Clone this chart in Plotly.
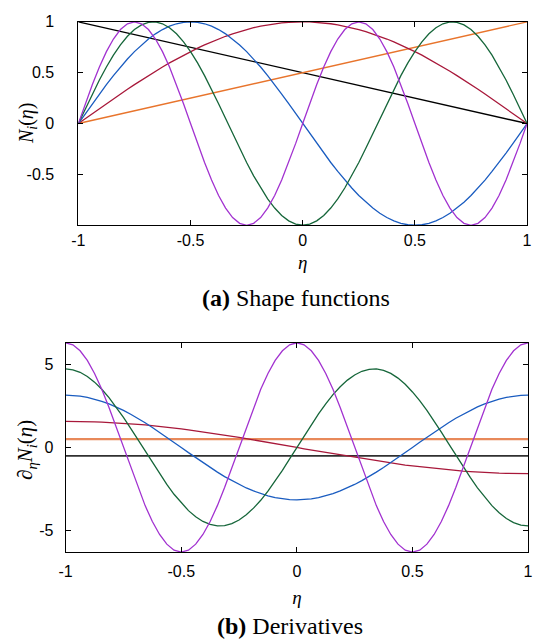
import plotly.graph_objects as go

# Nodal coordinate eta, sampled in steps of 1/32 on [-1, 1]
eta = [-1 + k / 32 for k in range(65)]
eta_ends = [-1.0, 1.0]

# Shape functions N_i(eta)
n_black = [1.0, 0.0]
n_orange = [0.0, 1.0]
n_red = [0, .049, .098, .147, .195, .243, .290, .337, .383, .428, .471, .514, .556, .596, .634, .672,
         .707, .741, .773, .803, .831, .858, .882, .904, .924, .942, .957, .970, .981, .989, .995, .999,
         1,
         .999, .995, .989, .981, .970, .957, .942, .924, .904, .882, .858, .831, .803, .773, .741,
         .707, .672, .634, .596, .556, .514, .471, .428, .383, .337, .290, .243, .195, .147, .098, .049, 0]
n_blue = [0, .098, .195, .290, .383, .471, .556, .634, .707, .773, .831, .882, .924, .957, .981, .995,
          1, .995, .981, .957, .924, .882, .831, .773, .707, .634, .556, .471, .383, .290, .195, .098,
          0, -.098, -.195, -.290, -.383, -.471, -.556, -.634, -.707, -.773, -.831, -.882, -.924, -.957, -.981, -.995,
          -1, -.995, -.981, -.957, -.924, -.882, -.831, -.773, -.707, -.634, -.556, -.471, -.383, -.290, -.195, -.098, 0]
n_green = [0, .147, .290, .428, .556, .672, .773, .858, .924, .970, .995, .999, .981, .942, .882, .803,
           .707, .596, .471, .337, .195, .049, -.098, -.243, -.383, -.514, -.634, -.741, -.831, -.904, -.957, -.989,
           -1,
           -.989, -.957, -.904, -.831, -.741, -.634, -.514, -.383, -.243, -.098, .049, .195, .337, .471, .596,
           .707, .803, .882, .942, .981, .999, .995, .970, .924, .858, .773, .672, .556, .428, .290, .147, 0]
n_purple = [0, .195, .383, .556, .707, .831, .924, .981, 1, .981, .924, .831, .707, .556, .383, .195,
            0, -.195, -.383, -.556, -.707, -.831, -.924, -.981, -1, -.981, -.924, -.831, -.707, -.556, -.383, -.195,
            0, .195, .383, .556, .707, .831, .924, .981, 1, .981, .924, .831, .707, .556, .383, .195,
            0, -.195, -.383, -.556, -.707, -.831, -.924, -.981, -1, -.981, -.924, -.831, -.707, -.556, -.383, -.195, 0]

# Derivatives d/d(eta) N_i(eta)
d_black = [-0.5, -0.5]
d_orange = [0.5, 0.5]
d_red = [1.57, 1.57, 1.56, 1.55, 1.54, 1.52, 1.50, 1.48, 1.45, 1.42, 1.39, 1.35, 1.31, 1.26, 1.21, 1.16,
         1.11, 1.06, 1.00, 0.94, 0.87, 0.81, 0.74, 0.67, 0.60, 0.53, 0.46, 0.38, 0.31, 0.23, 0.15, 0.08,
         0,
         -0.08, -0.15, -0.23, -0.31, -0.38, -0.46, -0.53, -0.60, -0.67, -0.74, -0.81, -0.87, -0.94, -1.00, -1.06,
         -1.11, -1.16, -1.21, -1.26, -1.31, -1.35, -1.39, -1.42, -1.45, -1.48, -1.50, -1.52, -1.54, -1.55, -1.56, -1.57, -1.57]
d_blue = [3.14, 3.13, 3.08, 3.01, 2.90, 2.77, 2.61, 2.43, 2.22, 1.99, 1.75, 1.48, 1.20, 0.91, 0.61, 0.31,
          0, -0.31, -0.61, -0.91, -1.20, -1.48, -1.75, -1.99, -2.22, -2.43, -2.61, -2.77, -2.90, -3.01, -3.08, -3.13,
          -3.14, -3.13, -3.08, -3.01, -2.90, -2.77, -2.61, -2.43, -2.22, -1.99, -1.75, -1.48, -1.20, -0.91, -0.61, -0.31,
          0, 0.31, 0.61, 0.91, 1.20, 1.48, 1.75, 1.99, 2.22, 2.43, 2.61, 2.77, 2.90, 3.01, 3.08, 3.13, 3.14]
d_green = [4.71, 4.66, 4.51, 4.26, 3.92, 3.49, 2.99, 2.42, 1.80, 1.15, 0.46, -0.23, -0.92, -1.59, -2.22, -2.81,
           -3.33, -3.79, -4.16, -4.44, -4.62, -4.71, -4.69, -4.57, -4.35, -4.04, -3.64, -3.17, -2.62, -2.02, -1.37, -0.69,
           0,
           0.69, 1.37, 2.02, 2.62, 3.17, 3.64, 4.04, 4.35, 4.57, 4.69, 4.71, 4.62, 4.44, 4.16, 3.79,
           3.33, 2.81, 2.22, 1.59, 0.92, 0.23, -0.46, -1.15, -1.80, -2.42, -2.99, -3.49, -3.92, -4.26, -4.51, -4.66, -4.71]
d_purple = [6.28, 6.16, 5.80, 5.22, 4.44, 3.49, 2.40, 1.23, 0, -1.23, -2.40, -3.49, -4.44, -5.22, -5.80, -6.16,
            -6.28, -6.16, -5.80, -5.22, -4.44, -3.49, -2.40, -1.23, 0, 1.23, 2.40, 3.49, 4.44, 5.22, 5.80, 6.16,
            6.28, 6.16, 5.80, 5.22, 4.44, 3.49, 2.40, 1.23, 0, -1.23, -2.40, -3.49, -4.44, -5.22, -5.80, -6.16,
            -6.28, -6.16, -5.80, -5.22, -4.44, -3.49, -2.40, -1.23, 0, 1.23, 2.40, 3.49, 4.44, 5.22, 5.80, 6.16, 6.28]

x_ticks = [-1, -0.5, 0, 0.5, 1]
x_ticktext = ["-1", "-0.5", "0", "0.5", "1"]
ya_ticks = [-0.5, 0, 0.5, 1]
ya_ticktext = ["-0.5", "0", "0.5", "1"]
yb_ticks = [-5, 0, 5]
yb_ticktext = ["-5", "0", "5"]

BLACK = "#000000"
ORANGE = "#E8742C"
ORANGE_B = "#E8895A"
RED = "#A8183A"
BLUE = "#1A5CC0"
GREEN = "#16663A"
PURPLE = "#A232D0"

fig = go.Figure()

def add(x, y, color, width, xa, ya):
    fig.add_trace(go.Scatter(
        x=x, y=y, mode="lines", xaxis=xa, yaxis=ya, showlegend=False,
        line=dict(color=color, width=width), hoverinfo="skip"))

# (a) shape functions
add(eta_ends, n_black, BLACK, 1.4, "x", "y")
add(eta_ends, n_orange, ORANGE, 1.4, "x", "y")
add(eta, n_red, RED, 1.3, "x", "y")
add(eta, n_blue, BLUE, 1.3, "x", "y")
add(eta, n_green, GREEN, 1.3, "x", "y")
add(eta, n_purple, PURPLE, 1.3, "x", "y")

# (b) derivatives
add(eta_ends, d_black, "#303030", 1.8, "x2", "y2")
add(eta_ends, d_orange, ORANGE_B, 2.2, "x2", "y2")
add(eta, d_red, RED, 1.3, "x2", "y2")
add(eta, d_blue, BLUE, 1.3, "x2", "y2")
add(eta, d_green, GREEN, 1.3, "x2", "y2")
add(eta, d_purple, PURPLE, 1.3, "x2", "y2")

W, H = 535, 642
tick_font = dict(family="Liberation Sans, Arial, sans-serif", size=16, color="black")
serif = "Liberation Serif, Times New Roman, serif"

axis_common = dict(
    showline=True, linecolor="black", linewidth=1, mirror="allticks",
    ticks="inside", ticklen=5, tickcolor="black", tickwidth=1,
    showgrid=False, zeroline=False, tickfont=tick_font, tickmode="array",
    ticklabeloverflow="allow")

fig.update_layout(
    width=W, height=H,
    margin=dict(l=0, r=0, t=0, b=0),
    paper_bgcolor="white", plot_bgcolor="white",
    xaxis=dict(axis_common, domain=[73 / W, 532 / W], range=[-1, 1], anchor="y",
               tickvals=x_ticks, ticktext=x_ticktext, ticklabelstandoff=1,
               title=dict(text="<i>η</i>", font=dict(family=serif, size=19, color="black"), standoff=7)),
    yaxis=dict(axis_common, domain=[1 - 220 / H, 1 - 14 / H], range=[-1, 1], anchor="x",
               tickvals=ya_ticks, ticktext=ya_ticktext, ticklabelstandoff=20),
    xaxis2=dict(axis_common, domain=[60 / W, 533 / W], range=[-1, 1], anchor="y2",
                tickvals=x_ticks, ticktext=x_ticktext, ticklabelstandoff=5,
                title=dict(text="<i>η</i>", font=dict(family=serif, size=19, color="black"), standoff=11)),
    yaxis2=dict(axis_common, domain=[1 - 551 / H, 1 - 339 / H], range=[-6.28, 6.28], anchor="x2",
                tickvals=yb_ticks, ticktext=yb_ticktext, ticklabelstandoff=8),
    annotations=[
        # y-axis titles
        dict(text="<i>N<sub>i</sub></i>(<i>η</i>)", x=21 / W, y=1 - 117 / H, xref="paper", yref="paper",
             textangle=-90, showarrow=False, font=dict(family=serif, size=20, color="black"),
             xanchor="center", yanchor="middle"),
        dict(text="∂<sub><i>η</i></sub><i>N<sub>i</sub></i>(<i>η</i>)", x=20 / W, y=1 - 448 / H,
             xref="paper", yref="paper", textangle=-90, showarrow=False,
             font=dict(family=serif, size=21, color="black"), xanchor="center", yanchor="middle"),
        # panel captions
        dict(text="<b>(a)</b> Shape functions", x=295.5 / W, y=1 - 294 / H, xref="paper", yref="paper",
             showarrow=False, font=dict(family=serif, size=24, color="black"), xanchor="center", yanchor="middle"),
        dict(text="<b>(b)</b> Derivatives", x=290 / W, y=1 - 626 / H, xref="paper", yref="paper",
             showarrow=False, font=dict(family=serif, size=24, color="black"), xanchor="center", yanchor="middle"),
    ],
)

fig.write_html("out.html")
